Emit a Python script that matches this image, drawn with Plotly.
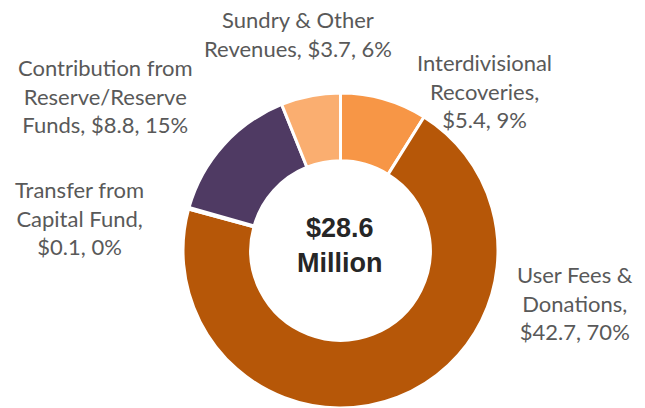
import plotly.graph_objects as go

# data, clockwise from 12 o'clock
labels = ["Interdivisional Recoveries", "User Fees & Donations", "Transfer from Capital Fund",
          "Contribution from Reserve/Reserve Funds", "Sundry & Other Revenues"]
values = [5.4, 42.7, 0.1, 8.8, 3.7]
pcts = ["9%", "70%", "0%", "15%", "6%"]
colors = ["#F79646", "#B65708", "#B65708", "#4F3A63", "#FAAE70"]
center_text = "$28.6<br>Million"

label_text = [
  "Interdivisional<br>Recoveries,<br>$%.1f, %s" % (values[0], pcts[0]),
  "User Fees &<br>Donations,<br>$%.1f, %s" % (values[1], pcts[1]),
  "Transfer from<br>Capital Fund,<br>$%.1f, %s" % (values[2], pcts[2]),
  "Contribution from<br>Reserve/Reserve<br>Funds, $%.1f, %s" % (values[3], pcts[3]),
  "Sundry & Other<br>Revenues, $%.1f, %s" % (values[4], pcts[4]),
]
label_pos = [(484, 91), (575, 303), (79, 218), (105, 96), (298, 34)]

W, H = 645, 408

fig = go.Figure()
fig.add_trace(go.Pie(
  labels=labels,
  values=values,
  sort=False,
  direction="clockwise",
  rotation=0,
  hole=0.57,
  textinfo="none",
  hoverinfo="label+value+percent",
  marker={"colors": colors, "line": {"color": "white", "width": 3}},
  domain={"x": [0.2837, 0.7721], "y": [0.0, 0.772]},
  showlegend=False,
))

for txt, (px_, py_) in zip(label_text, label_pos):
  fig.add_annotation(
    x=px_ / W, y=1 - py_ / H, xref="paper", yref="paper",
    text=txt, showarrow=False, xanchor="center", yanchor="middle",
    font={"family": "Lato", "size": 22, "color": "#595959"},
  )

fig.add_annotation(
  x=339 / W, y=1 - 245 / H, xref="paper", yref="paper",
  text="<b>%s</b>" % center_text, showarrow=False, xanchor="center", yanchor="middle",
  font={"family": "Liberation Sans, Arial", "size": 27, "color": "#262626"},
)

fig.update_layout({
  "width": W, "height": H,
  "margin": {"l": 0, "r": 0, "t": 0, "b": 0},
  "paper_bgcolor": "white",
  "plot_bgcolor": "white",
})

fig.write_html("out.html", config={"displayModeBar": False},
               post_script="document.body.style.margin='0';")
